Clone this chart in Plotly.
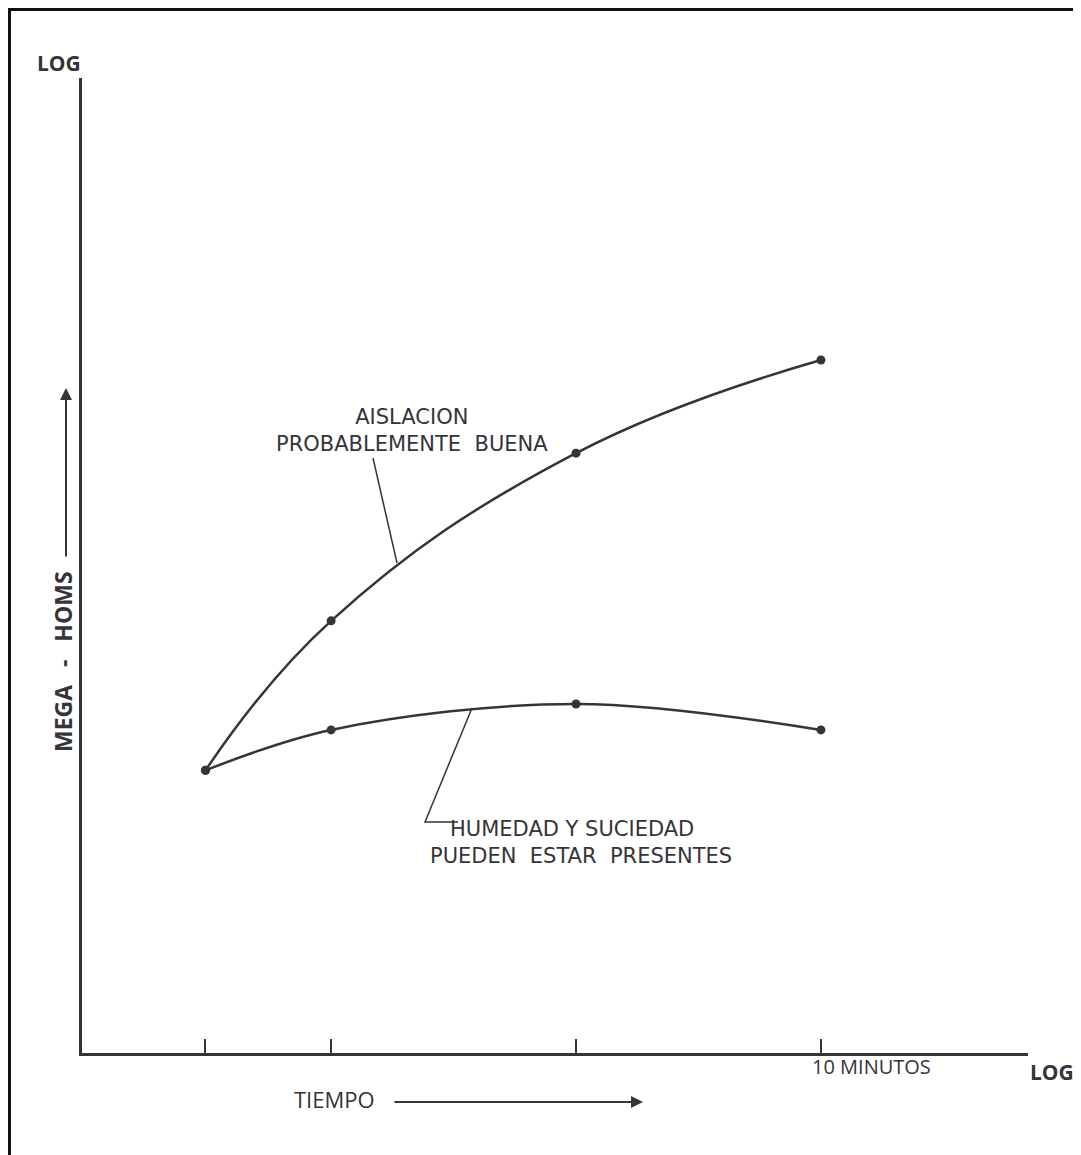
import numpy as np
import plotly.graph_objects as go

# data (log-log, time in minutes, relative megohms)
tiempo_min = [1.0, 1.6, 4.0, 10.0]
aislacion_buena = [3.8, 7.7, 17.0, 26.4]
humedad_suciedad = [3.8, 4.6, 5.2, 4.6]
tick_tiempo = [1.0, 1.6, 4.0, 10.0]

W, H = 1081, 1155
L, R, T, B = 82, 1028, 78, 1053   # plot area in window pixels
OFF = 8                            # page body margin of the html

def px(x):
    return (x - L) / (R - L)

def py(y):
    return (B - y) / (B - T)

ink = "#34343a"
letter = "DejaVu Sans, sans-serif"
bold = "Open Sans, DejaVu Sans, sans-serif"

fig = go.Figure()
fig.add_trace(go.Scatter(x=tiempo_min, y=aislacion_buena, mode="lines+markers",
                         line=dict(color=ink, width=2.5, shape="spline", smoothing=1.2),
                         marker=dict(color=ink, size=9), name="Aislacion probablemente buena"))
fig.add_trace(go.Scatter(x=tiempo_min, y=humedad_suciedad, mode="lines+markers",
                         line=dict(color=ink, width=2.5, shape="spline", smoothing=1.0),
                         marker=dict(color=ink, size=9), name="Humedad y suciedad"))

fig.update_xaxes(type="log", range=[np.log10(0.63), np.log10(21.7)],
                 showline=True, linecolor=ink, linewidth=2.5,
                 showgrid=False, zeroline=False,
                 tickvals=tick_tiempo, ticktext=["", "", "", ""],
                 ticks="inside", ticklen=14, tickwidth=2, tickcolor=ink)
fig.update_yaxes(type="log", range=[0, 2],
                 showline=True, linecolor=ink, linewidth=2.5,
                 showgrid=False, zeroline=False, showticklabels=False, ticks="")

ann = []
def txt(s, x, y, size, font=letter, angle=0, xanchor="center", align="center"):
    ann.append(dict(text=s, x=px(x), y=py(y), xref="paper", yref="paper",
                    showarrow=False, textangle=angle, xanchor=xanchor, yanchor="middle",
                    align=align, font=dict(family=font, size=size, color=ink)))

nb = "\u00a0"
txt("<b>LOG</b>", 59, 63, 21, font=bold)
txt("<b>LOG</b>", 1052, 1072, 21, font=bold)
txt("10 MINUTOS", 871, 1066, 20, font="Open Sans, sans-serif")
txt("TIEMPO", 334, 1099, 22, font="Open Sans, sans-serif")
txt(f"<b>MEGA{nb*3}-{nb*3}HOMS</b>", 63, 662, 23, font=bold, angle=-90)
txt(f"AISLACION<br>PROBABLEMENTE{nb}{nb}BUENA", 412, 431, 21)
txt(f"{nb*3}HUMEDAD Y SUCIEDAD<br>PUEDEN{nb}{nb}ESTAR{nb}{nb}PRESENTES", 428, 842, 21,
    xanchor="left", align="left")

# arrows
ann.append(dict(x=px(643), y=py(1102), xref="paper", yref="paper", text="",
                showarrow=True, ax=-250, ay=0, arrowhead=2, arrowsize=1.2,
                arrowwidth=2, arrowcolor=ink))
ann.append(dict(x=px(66), y=py(388), xref="paper", yref="paper", text="",
                showarrow=True, ax=0, ay=170, arrowhead=2, arrowsize=1.2,
                arrowwidth=2, arrowcolor=ink))

shapes = [
    # frame of the scanned page (top and left edges visible)
    dict(type="rect", xref="paper", yref="paper", x0=px(9.5), x1=px(1095),
         y0=py(1170), y1=py(9.5), line=dict(color="#111", width=3)),
    # leader lines
    dict(type="path", xref="paper", yref="paper",
         path=f"M {px(373)} {py(458)} L {px(397)} {py(563)}",
         line=dict(color=ink, width=1.5)),
    dict(type="path", xref="paper", yref="paper",
         path=f"M {px(472)} {py(708)} L {px(425)} {py(822)} L {px(458)} {py(822)}",
         line=dict(color=ink, width=1.5)),
]

fig.update_layout(width=W, height=H, plot_bgcolor="white", paper_bgcolor="white",
                  margin=dict(l=L - OFF, r=W - R + OFF, t=T - OFF, b=H - B + OFF),
                  showlegend=False, annotations=ann, shapes=shapes)

fig.write_html("out.html")
